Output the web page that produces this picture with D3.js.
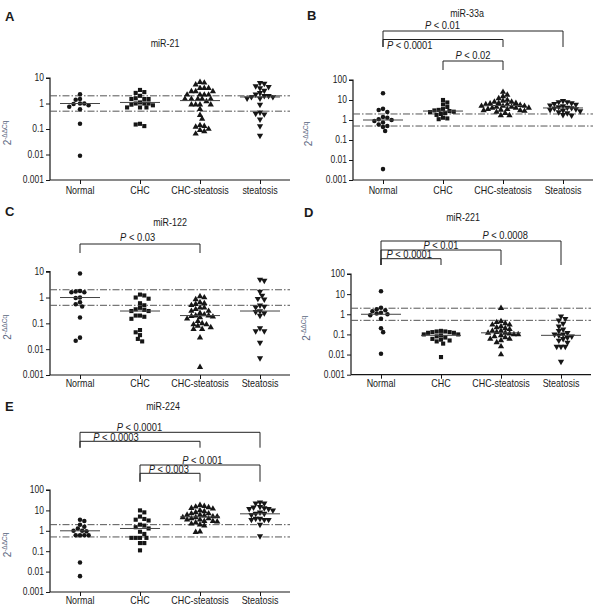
<!DOCTYPE html>
<html><head><meta charset="utf-8">
<script src="https://cdn.jsdelivr.net/npm/d3@7"></script>
<style>
body{margin:0;background:#fff}
svg{display:block}
text{font-family:"Liberation Sans",Arial,sans-serif;fill:#1a1a1a}
</style></head><body>
<svg id="chart" width="600" height="613"></svg>
<script>
// ---------------- DATA ----------------
const panelLetters = ["A","B","C","D","E"];
const titles = ["miR-21","miR-33a","miR-122","miR-221","miR-224"];
const categoriesA = ["Normal","CHC","CHC-steatosis","steatosis"];
const categoriesB = ["Normal","CHC","CHC-steatosis","Steatosis"];
const tickLabelsShort = ["0.001","0.01","0.1","1","10"];
const tickLabelsLong = ["0.001","0.01","0.1","1","10","100"];
const cutoffs = [2, 0.5];

const valuesA = [
  [2.3,1.4,1.5,1.0,0.95,1.0,0.85,0.75,0.6,0.16,0.009],
  [3.4,2.6,2.8,2.0,1.6,1.5,1.5,1.5,1.1,1.0,1.0,1.0,0.9,0.85,0.7,0.7,0.7,0.16,0.13,0.15],
  [6.9,6.5,5.5,4.0,4.0,4.0,3.0,3.0,3.0,2.2,2.2,2.2,2.2,1.5,1.5,1.5,1.5,1.5,1.2,0.9,0.9,0.9,0.9,0.6,0.35,0.25,0.14,0.13,0.12,0.1,0.09,0.08,0.065],
  [6.5,6.0,4.8,4.5,4.0,3.2,2.6,2.3,2.0,2.0,1.8,1.8,1.6,1.6,0.9,0.45,0.4,0.38,0.24,0.13,0.055]
];
const valuesB = [
  [22,3.6,3.2,2.5,1.4,1.3,1.1,1.0,0.9,0.75,0.6,0.5,0.45,0.28,0.0035],
  [10,7.5,6,4.5,3.5,3.2,3.0,2.8,2.6,2.5,2.2,2.0,1.8,1.3,1.2,1.1],
  [25,18,15,12,10,9,8,8,7,7,6.5,6,6,5.5,5,5,5,4.5,4.5,4,4,4,3.5,3.5,3.2,3,3,2.8,2.5,2.2,1.7,1.7],
  [9,8,8,7,6.5,6,5.5,5,4.5,4.2,4,3.8,3.5,3.2,3,2.8,2.5,2.2,1.8,1.7]
];
const valuesC = [
  [8.5,1.8,1.7,1.6,1.6,1.0,0.95,0.65,0.55,0.45,0.17,0.028,0.021],
  [1.3,1.2,1.0,0.9,0.6,0.5,0.4,0.35,0.33,0.3,0.3,0.2,0.2,0.18,0.15,0.055,0.045,0.035,0.025,0.02],
  [1.1,1.0,0.85,0.65,0.6,0.55,0.5,0.4,0.4,0.35,0.3,0.3,0.25,0.22,0.2,0.2,0.19,0.18,0.17,0.15,0.12,0.1,0.09,0.09,0.08,0.07,0.06,0.06,0.028,0.002],
  [5.0,4.5,1.7,1.2,0.9,0.85,0.5,0.45,0.42,0.3,0.28,0.25,0.2,0.065,0.05,0.05,0.018,0.0045]
];
const valuesD = [
  [14,2.1,1.8,1.6,1.4,1.2,1.1,1.0,0.9,0.6,0.2,0.13,0.011],
  [0.15,0.14,0.14,0.13,0.13,0.12,0.12,0.1,0.1,0.09,0.08,0.07,0.06,0.055,0.05,0.045,0.035,0.0075],
  [2.0,0.45,0.4,0.35,0.3,0.3,0.25,0.22,0.2,0.18,0.15,0.15,0.13,0.12,0.12,0.11,0.1,0.1,0.09,0.08,0.07,0.06,0.06,0.05,0.04,0.025,0.01],
  [0.8,0.6,0.5,0.35,0.25,0.18,0.15,0.12,0.1,0.1,0.09,0.08,0.07,0.06,0.05,0.04,0.025,0.025,0.025,0.0045]
];
const valuesE = [
  [3.5,3.0,2.0,1.6,1.3,1.0,1.0,0.95,0.6,0.6,0.6,0.6,0.028,0.006],
  [10,8,5,3.8,3.5,3.2,2.0,1.8,1.5,1.3,0.9,0.7,0.45,0.45,0.45,0.45,0.25,0.25,0.11],
  [18,16,15,14,13,12,10,9,8,7,7,6,6,5.5,5,5,4.5,4.5,4,4,3.5,3.5,3,3,2.8,2.5,2.2,2.0,1.8,0.9,0.85],
  [25,22,22,15,14,13,12,12,10,8,7,7,6,4,4,3.5,3.5,3.5,2.0,0.55]
];
const mediansA = [1.0,1.1,1.3,1.8];
const mediansB = [1.0,2.8,5.3,4.0];
const mediansC = [1.0,0.3,0.2,0.3];
const mediansD = [1.0,0.09,0.12,0.09];
const mediansE = [1.0,1.3,4.8,6.8];

// comparisons: [fromGroup, toGroup, p-value text]
const compsA = [];
const compsB = [[0,3,"0.01"],[0,2,"0.0001"],[1,2,"0.02"]];
const compsC = [[0,2,"0.03"]];
const compsD = [[0,3,"0.0008"],[0,2,"0.01"],[0,1,"0.0001"]];
const compsE = [[0,3,"0.0001"],[0,2,"0.0003"],[1,3,"0.001"],[1,2,"0.003"]];

// ---------------- LAYOUT ----------------
const layout = [
  {x0:50,x1:290,yTop:78,yBot:180,max:10,ticks:tickLabelsShort,cats:categoriesA,vals:valuesA,meds:mediansA,comps:compsA,
   letter:[5,21],title:[165,47],catY:194,ylab:11,brk:[]},
  {x0:353,x1:593,yTop:80,yBot:180,max:100,ticks:tickLabelsLong,cats:categoriesB,vals:valuesB,meds:mediansB,comps:compsB,
   letter:[307,20],title:[467,17],catY:194,ylab:312,
   brk:[[31,47,0.33,29],[39.5,47,0.0,48.5,"start",4],[61,70,0.5,59]]},
  {x0:50,x1:290,yTop:271.7,yBot:375,max:10,ticks:tickLabelsShort,cats:categoriesB,vals:valuesC,meds:mediansC,comps:compsC,
   letter:[5,216],title:[170,226],catY:387,ylab:11,
   brk:[[244,253,0.48,240.5]]},
  {x0:351,x1:591,yTop:274,yBot:374.7,max:100,ticks:tickLabelsLong,cats:categoriesB,vals:valuesD,meds:mediansD,comps:compsD,
   letter:[304,217],title:[463,221],catY:387,ylab:310,
   brk:[[241,265,0.69,239],[250,265,0.5,248.5],[258.7,265,0.47,257.5]]},
  {x0:50,x1:290,yTop:490,yBot:592,max:100,ticks:tickLabelsLong,cats:categoriesB,vals:valuesE,meds:mediansE,comps:compsE,
   letter:[5,411],title:[163,410],catY:604,ylab:11,
   brk:[[432.3,447.7,0.33,431],[441.3,447.7,0.3,440.5],[465,481.7,0.52,463.5],[473.3,481.7,0.48,472.5]]}
];

const svg = d3.select("#chart");
const ink = "#161616";
const shapes = [d3.symbolCircle, d3.symbolSquare, d3.symbolTriangle, d3.symbolTriangle];
const shapeSizes = [16, 17, 17, 17];
const SX = 0.85; // horizontal text compression (narrow typeface)

function label(g, x, y, str, size, anchor) {
  return g.append("text")
    .attr("transform", `translate(${x},${y}) scale(${SX},1)`)
    .attr("text-anchor", anchor || "middle")
    .attr("font-size", size)
    .text(str);
}

function swarm(vals, y, d) {
  const pts = vals.map(v => ({v, y: y(v)})).sort((a,b) => a.y - b.y);
  const placed = [];
  pts.forEach((p, i) => {
    const cands = [0];
    const sgn = (i % 2) ? 1 : -1;
    for (let k = 1; k < 40; k++) { cands.push(sgn*k*d/2, -sgn*k*d/2); }
    for (const o of cands) {
      if (placed.every(q => (q.x - o)**2 + (q.y - p.y)**2 >= d*d)) { p.x = o; break; }
    }
    placed.push(p);
  });
  return placed;
}

layout.forEach((L, pi) => {
  const g = svg.append("g");
  const y = d3.scaleLog().domain([0.001, L.max]).range([L.yBot, L.yTop]);
  const x = d3.scalePoint().domain(L.cats).range([L.x0, L.x1]).padding(0.5);

  // letter
  g.append("text").attr("x", L.letter[0]).attr("y", L.letter[1])
    .attr("font-size", 13).attr("font-weight", "bold").text(panelLetters[pi]);
  // title
  label(g, L.title[0], L.title[1], titles[pi], 10.5);

  // y axis
  const tv = L.ticks.map(Number);
  const yAxis = d3.axisLeft(y).tickValues(tv).tickSize(4);
  const ya = g.append("g").attr("transform", `translate(${L.x0},0)`).call(yAxis);
  ya.select(".domain").attr("d", `M-4,${L.yTop}H0V${L.yBot}`).attr("stroke", ink).attr("stroke-width", 1.2);
  ya.selectAll(".tick line").attr("stroke", ink);
  ya.selectAll(".tick text").remove();
  L.ticks.forEach((t, i) => {
    label(g, L.x0 - 6, y(tv[i]) + 3.4, t, 10, "end").attr("fill", ink);
  });

  // x axis
  const xAxis = d3.axisBottom(x).tickSize(4);
  const xa = g.append("g").attr("transform", `translate(0,${L.yBot})`).call(xAxis);
  xa.select(".domain").attr("d", `M${L.x0},0H${L.x1}`).attr("stroke", ink).attr("stroke-width", 1.2);
  xa.selectAll(".tick line").attr("stroke", ink);
  xa.selectAll(".tick text").remove();
  L.cats.forEach(c => label(g, x(c), L.catY, c, 10.5));

  // y label
  const yl = g.append("text")
    .attr("transform", `translate(${L.ylab},${(L.yTop + L.yBot)/2 + 4}) rotate(-90)`)
    .attr("text-anchor", "middle").style("fill", "#5a6680").attr("font-size", 10);
  yl.append("tspan").text("2");
  yl.append("tspan").attr("dy", -4).attr("font-size", 6.5).text("-ΔΔCq");

  // cutoff lines
  cutoffs.forEach(c => {
    g.append("line").attr("x1", L.x0).attr("x2", L.x1).attr("y1", y(c)).attr("y2", y(c))
      .attr("stroke", "#555").attr("stroke-width", 1).attr("stroke-dasharray", "7,2,1.5,2");
  });

  // points
  L.vals.forEach((vals, gi) => {
    const cx = x(L.cats[gi]);
    const pts = swarm(vals, y, 4.3);
    const sym = d3.symbol().type(shapes[gi]).size(shapeSizes[gi]);
    g.selectAll(null).data(pts).enter().append("path")
      .attr("d", sym)
      .attr("transform", d => `translate(${cx + d.x},${d.y})${gi === 3 ? " rotate(180)" : ""}`)
      .attr("fill", ink);
    // median line
    g.append("line").attr("x1", cx - 20).attr("x2", cx + 20)
      .attr("y1", y(L.meds[gi])).attr("y2", y(L.meds[gi]))
      .attr("stroke", "#444").attr("stroke-width", 1);
  });

  // brackets
  L.comps.forEach((c, bi) => {
    const b = L.brk[bi];
    const xa1 = x(L.cats[c[0]]), xa2 = x(L.cats[c[1]]);
    g.append("path").attr("d", `M${xa1},${b[1]}V${b[0]}H${xa2}V${b[1]}`)
      .attr("fill", "none").attr("stroke", "#222").attr("stroke-width", 1);
    const anchor = b[4] || "middle";
    const tx = anchor === "start" ? xa1 + b[5] : xa1 + (xa2 - xa1) * b[2];
    const t = label(g, tx, b[3], "", 11, anchor).text(null);
    t.append("tspan").attr("font-style", "italic").text("P");
    t.append("tspan").text(" < " + c[2]);
  });
});
</script>
</body></html>
